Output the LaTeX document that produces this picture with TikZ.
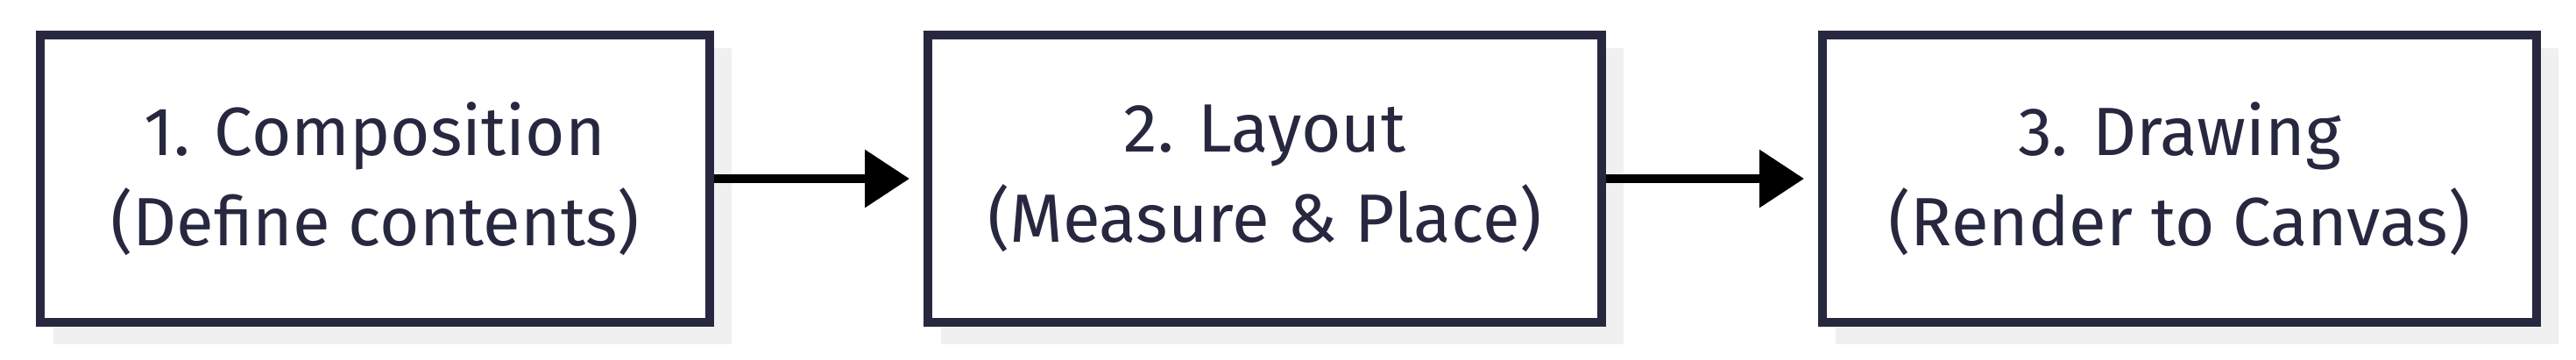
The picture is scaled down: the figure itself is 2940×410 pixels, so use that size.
\documentclass[tikz,border=0pt]{standalone}
\usepackage{fontspec}
\setmainfont{Fira Sans}
\usetikzlibrary{arrows.meta,backgrounds}
\definecolor{navy}{HTML}{272840}
\definecolor{shadowc}{HTML}{F0F0F0}
\tikzset{
  stagebox/.style={draw=navy, line width=10pt, fill=white, text=navy,
    minimum height=328pt, align=center, inner sep=0pt,
    font=\fontsize{78}{103}\selectfont},
  flowarrow/.style={draw=black, line width=10pt,
    -{Triangle[length=51pt,width=64pt]}, shorten >=16pt},
  boxshadow/.style={fill=shadowc}
}
\begin{document}
\begin{tikzpicture}[x=1pt,y=-1pt]
\useasboundingbox (0,0) rectangle (2940,410);
\node[stagebox, minimum width=764pt] (b1) at (428,204) {1. Composition\\(Define contents)};
\node[stagebox, minimum width=769pt] (b2) at (1443.5,204) {2. Layout\\(Measure \& Place)};
\node[stagebox, minimum width=815pt] (b3) at (2487.5,204) {3. Drawing\\(Render to Canvas)};
\begin{scope}[on background layer]
\foreach \b in {b1,b2,b3}{
  \fill[boxshadow] ([shift={(20,20)}]\b.north west) rectangle ([shift={(20,20)}]\b.south east);
}
\end{scope}
\draw[flowarrow] (b1.east) -- (b2.west);
\draw[flowarrow] (b2.east) -- (b3.west);
\end{tikzpicture}
\end{document}
